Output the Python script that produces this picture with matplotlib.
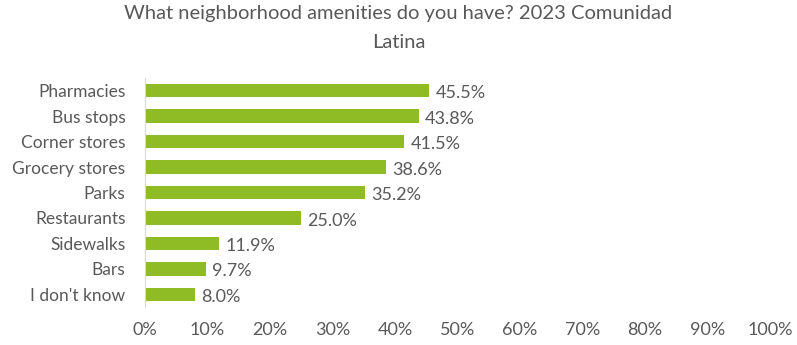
import matplotlib
matplotlib.use('Agg')
import matplotlib.pyplot as plt
from matplotlib.ticker import PercentFormatter

plt.rcParams['font.family'] = ['Lato', 'DejaVu Sans']

# data, top to bottom as shown
amenities = ['Pharmacies', 'Bus stops', 'Corner stores', 'Grocery stores', 'Parks',
             'Restaurants', 'Sidewalks', 'Bars', "I don't know"]
shares = [45.5, 43.8, 41.5, 38.6, 35.2, 25.0, 11.9, 9.7, 8.0]

green = '#8FBC24'
grey = '#595959'

fig = plt.figure(figsize=(7.97, 3.45), dpi=100)
ax = fig.add_axes([0.182, 0.110, 0.784, 0.664])

ypos = list(range(len(amenities)))[::-1]
ax.barh(ypos, shares, height=0.53, color=green)
for y, v in zip(ypos, shares):
	ax.text(v + 1.0, y - 0.1, f'{v:.1f}%', va='center', ha='left', fontsize=13, color=grey)

ax.set_xlim(0, 100)
ax.set_ylim(-0.5, len(amenities) - 0.5)
ax.set_xticks(range(0, 101, 10))
ax.xaxis.set_major_formatter(PercentFormatter(decimals=0))
ax.set_yticks(ypos)
ax.set_yticklabels(amenities)
ax.tick_params(axis='x', length=0, pad=11, labelsize=13, labelcolor=grey)
ax.tick_params(axis='y', length=0, pad=14, labelsize=12.5, labelcolor=grey)
for s in ['top', 'right', 'bottom']:
	ax.spines[s].set_visible(False)
ax.spines['left'].set_color('#D9D9D9')

fig.suptitle('What neighborhood amenities do you have? 2023 Comunidad\nLatina',
			 x=0.5, y=0.985, fontsize=14.5, color=grey, linespacing=1.85)

plt.savefig('out.png', dpi=100)
